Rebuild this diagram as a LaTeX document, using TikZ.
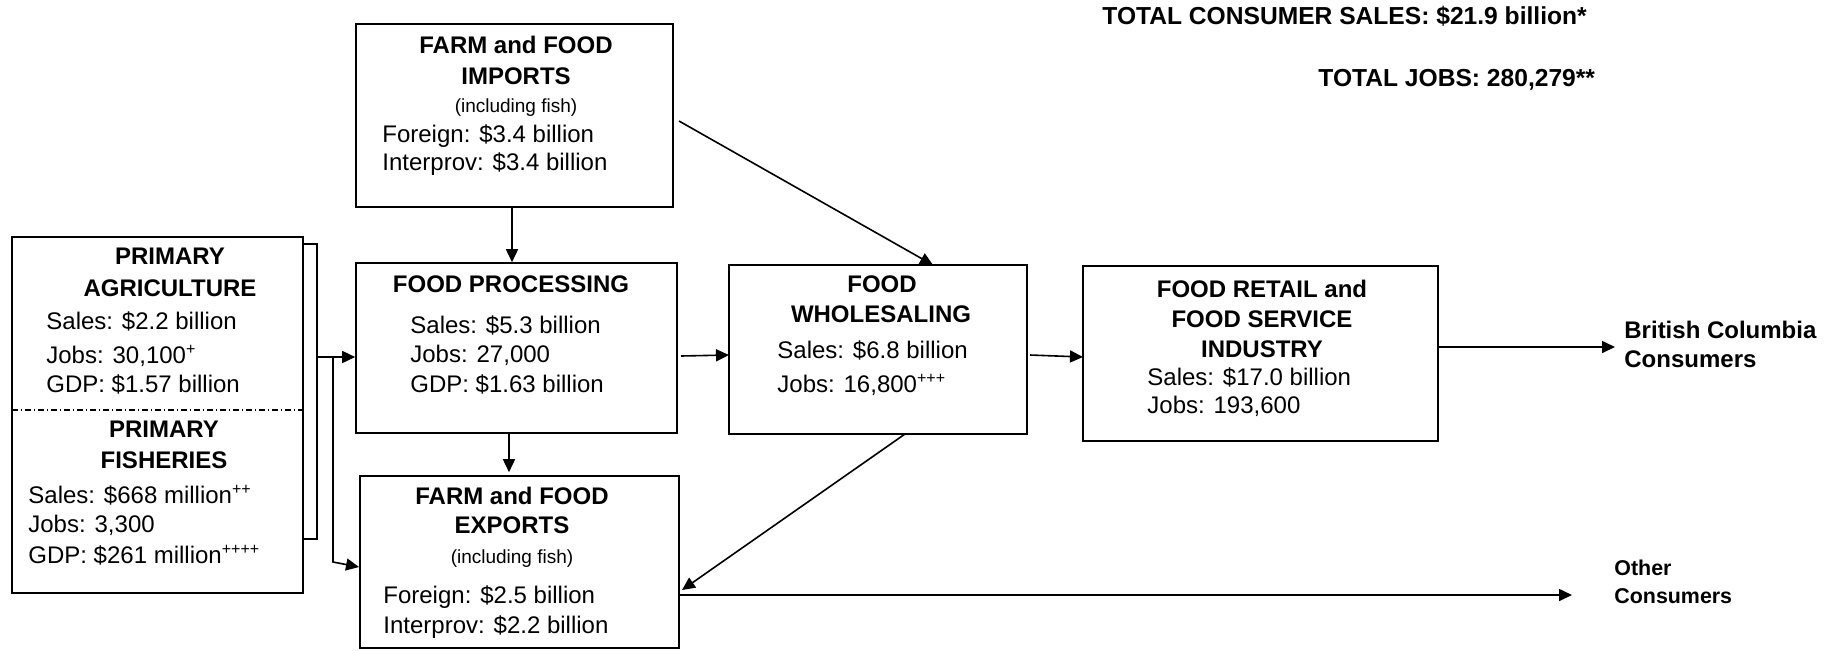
\documentclass[tikz,border=0pt]{standalone}
\usepackage{fontspec}
\setmainfont{Liberation Sans}
\usetikzlibrary{arrows.meta,fit}
\begin{document}
\begin{tikzpicture}[x=0.5pt,y=-0.5pt,
  box/.style={draw,line width=0.8pt,inner sep=0pt},
  hd/.style={font=\fontsize{12}{14}\selectfont\bfseries,inner sep=0pt,anchor=mid},
  tx/.style={font=\fontsize{12}{14}\selectfont,inner sep=0pt,anchor=mid west},
  sm/.style={font=\fontsize{9.5}{11}\selectfont,inner sep=0pt,anchor=mid},
  lbl/.style={font=\fontsize{12}{14}\selectfont\bfseries,inner sep=0pt,anchor=mid west},
  tot/.style={font=\fontsize{12.3}{14}\selectfont\bfseries,inner sep=0pt,anchor=mid west},
  lbls/.style={font=\fontsize{10.7}{13}\selectfont\bfseries,inner sep=0pt,anchor=mid west},
  ln/.style={line width=0.8pt},
  arr/.style={line width=0.8pt,-{Triangle[length=6.5pt,width=6pt]}},
  dd/.style={line width=0.6pt,dash pattern=on 2.8pt off 1.5pt on 0.7pt off 1.5pt}]
\useasboundingbox (0,0) rectangle (1826,650);

% boxes
\node[box,fit={(12,237) (303,593)}] (prim) {};
\node[box,fit={(356,24) (673,207)}] (imp) {};
\node[box,fit={(356,263) (677,433)}] (fp) {};
\node[box,fit={(360,476) (679,648)}] (exp) {};
\node[box,fit={(729,265) (1027,434)}] (wh) {};
\node[box,fit={(1083,266) (1438,441)}] (ret) {};

% imports text
\node[hd] (impH1) at (516,48) {FARM and FOOD};
\node[hd] (impH2) at (516,79) {IMPORTS};
\node[sm] (impH3) at (516,107) {(including fish)};
\node[tx] (impF) at (382,137) {Foreign: \$3.4 billion};
\node[tx] (impI) at (382,165) {Interprov: \$3.4 billion};

% primary text
\node[hd] (pa1) at (170,259) {PRIMARY};
\node[hd] (pa2) at (170,291) {AGRICULTURE};
\node[tx] (pa3) at (46,324) {Sales: \$2.2 billion};
\node[tx] (pa4) at (46,358) {Jobs: 30,100\textsuperscript{+}};
\node[tx] (pa5) at (46,387) {GDP: \$1.57 billion};
\node[hd] (pf1) at (164,432) {PRIMARY};
\node[hd] (pf2) at (164,463) {FISHERIES};
\node[tx] (pf3) at (28,498) {Sales: \$668 million\textsuperscript{++}};
\node[tx] (pf4) at (28,527) {Jobs: 3,300};
\node[tx] (pf5) at (28,558) {GDP: \$261 million\textsuperscript{++++}};

% food processing text
\node[hd] (fp1) at (511,287) {FOOD PROCESSING};
\node[tx] (fp2) at (410,328) {Sales: \$5.3 billion};
\node[tx] (fp3) at (410,357) {Jobs: 27,000};
\node[tx] (fp4) at (410,387) {GDP: \$1.63 billion};

% exports text
\node[hd] (ex1) at (512,499) {FARM and FOOD};
\node[hd] (ex2) at (512,528) {EXPORTS};
\node[sm] (ex3) at (512,558) {(including fish)};
\node[tx] (ex4) at (383,598) {Foreign: \$2.5 billion};
\node[tx] (ex5) at (383,628) {Interprov: \$2.2 billion};

% wholesaling text
\node[hd] (wh1) at (882,287) {FOOD};
\node[hd] (wh2) at (881,317) {WHOLESALING};
\node[tx] (wh3) at (777,353) {Sales: \$6.8 billion};
\node[tx] (wh4) at (777,387) {Jobs: 16,800\textsuperscript{+++}};

% retail text
\node[hd] (rt1) at (1262,292) {FOOD RETAIL and};
\node[hd] (rt2) at (1262,322) {FOOD SERVICE};
\node[hd] (rt3) at (1262,352) {INDUSTRY};
\node[tx] (rt4) at (1147,380) {Sales: \$17.0 billion};
\node[tx] (rt5) at (1147,408) {Jobs: 193,600};

% totals
\node[tot] (tot1) at (1102,19) {TOTAL CONSUMER SALES: \$21.9 billion*};
\node[tot] (tot2) at (1318,81) {TOTAL JOBS: 280,279**};

% consumers
\node[lbl] (bc1) at (1624,333) {British Columbia};
\node[lbl] (bc2) at (1624,362) {Consumers};
\node[lbls] (oc1) at (1614,570) {Other};
\node[lbls] (oc2) at (1614,598) {Consumers};

% dash-dot divider
\coordinate (dsh) at (12,410);
\draw[dd] (dsh) -- (dsh -| prim.east);

% bracket
\coordinate (bt) at (303,244);
\coordinate (bb) at (303,539);
\draw[ln] (bt) -- ++(14,0) |- (bb);

% primary -> processing / exports
\coordinate (br) at (317,357);
\coordinate (jn) at (333,357);
\coordinate (jd) at (333,562);
\coordinate (ein) at (359,567);
\draw[arr] (br) -- (br -| fp.west);
\draw[arr] (jn) -- (jd) -- (ein);

% imports -> processing
\coordinate (xa) at (512,0);
\draw[arr] (imp.south -| xa) -- (fp.north -| xa);
% processing -> exports
\coordinate (xb) at (509,0);
\draw[arr] (fp.south -| xb) -- ([yshift=1.5pt]exp.north -| xb);

% imports -> wholesaling
\coordinate (iw1) at (679,121);
\coordinate (iw2) at (933,265);
\draw[arr] (iw1) -- (iw2);

% processing -> wholesaling
\coordinate (fw1) at (681,356);
\coordinate (fw2) at (729,355);
\draw[arr] (fw1) -- (fw2);

% wholesaling -> retail
\coordinate (wr1) at (1030,355);
\coordinate (wr2) at (1083,357);
\draw[arr] (wr1) -- (wr2);

% wholesaling -> exports
\coordinate (we1) at (905,434);
\coordinate (we2) at (682,590);
\draw[arr] (we1) -- (we2);

% exports -> other consumers
\coordinate (eo) at (679,595);
\coordinate (oc) at (1572,595);
\draw[arr] (eo) -- (oc);

% retail -> BC consumers
\coordinate (rb1) at (1438,347);
\coordinate (rb2) at (1615,347);
\draw[arr] (rb1) -- (rb2);
\end{tikzpicture}
\end{document}
